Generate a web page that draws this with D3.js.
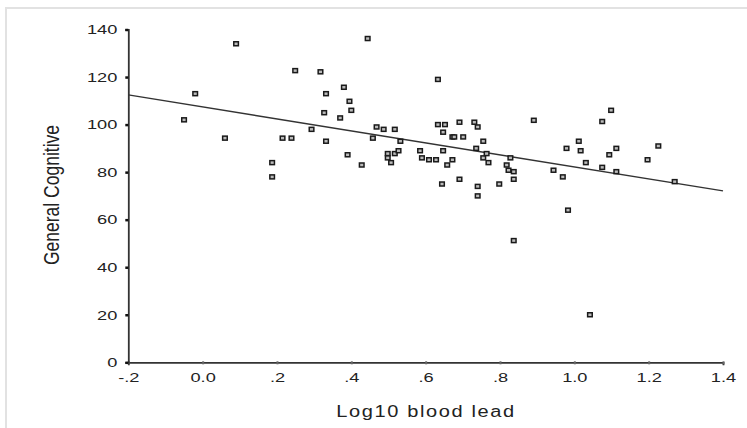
<!DOCTYPE html>
<html lang="en">
<head>
<meta charset="utf-8">
<title>General Cognitive vs Log10 blood lead</title>
<script src="https://d3js.org/d3.v7.min.js"></script>
<style>
  body { margin: 0; background: #fff; }
  text { font-family: "Liberation Sans", Arial, sans-serif; fill: #222; }
</style>
</head>
<body>
<script>
// data
var leadLog = [-0.05, -0.02, 0.06, 0.09, 0.187, 0.187, 0.215, 0.239, 0.249, 0.293,
  0.317, 0.327, 0.332, 0.332, 0.37, 0.38, 0.39, 0.395, 0.40, 0.428,
  0.444, 0.458, 0.468, 0.487, 0.498, 0.498, 0.507, 0.517, 0.517, 0.527,
  0.532, 0.585, 0.59, 0.609, 0.628, 0.633, 0.633, 0.652, 0.644, 0.647,
  0.647, 0.658, 0.672, 0.677, 0.672, 0.691, 0.691, 0.701, 0.731, 0.736,
  0.74, 0.74, 0.74, 0.755, 0.755, 0.764, 0.769, 0.798, 0.818, 0.823,
  0.828, 0.837, 0.837, 0.837, 0.891, 0.944, 0.969, 0.979, 0.983, 1.012,
  1.017, 1.031, 1.042, 1.075, 1.075, 1.094, 1.099, 1.113, 1.113, 1.197,
  1.226, 1.27];
var cognitive = [102, 113, 94.3, 134, 84, 78, 94.3, 94.3, 122.7, 98,
  122.2, 105, 113, 93, 102.8, 115.7, 87.3, 109.8, 106, 83,
  136.2, 94.3, 99, 98, 87.8, 86, 84, 98, 87.8, 89,
  93, 89, 86, 85.2, 85.2, 119, 100, 100, 75, 96.8,
  89, 83, 94.8, 94.8, 85.2, 101, 77, 94.8, 101, 90,
  99, 74, 70, 93, 86, 87.8, 84, 75, 83, 80.8,
  86, 80.2, 77, 51.2, 101.8, 80.8, 78, 90, 64, 93,
  89, 84, 20, 101.3, 82, 87.3, 106, 90, 80.2, 85.2,
  91, 76];
var fitX = [-0.2, 1.4];
var fitY = [112.5, 72.1];
var xTicks = [-0.2, 0, 0.2, 0.4, 0.6, 0.8, 1.0, 1.2, 1.4];
var xTickLabels = ["-.2", "0.0", ".2", ".4", ".6", ".8", "1.0", "1.2", "1.4"];
var yTicks = [0, 20, 40, 60, 80, 100, 120, 140];

var w = 747, h = 428;
var sx = 1.35;   // the original picture is stretched sideways

var svg = d3.select("body").append("svg")
    .attr("width", w)
    .attr("height", h);

// light frame at top and left
svg.append("line").attr("x1", 5).attr("x2", w).attr("y1", 8).attr("y2", 8)
    .attr("stroke", "#e2e2e2").attr("stroke-width", 2);
svg.append("line").attr("x1", 6).attr("x2", 6).attr("y1", 7).attr("y2", h)
    .attr("stroke", "#e2e2e2").attr("stroke-width", 2);

var x = d3.scaleLinear().domain([-0.2, 1.4]).range([128.3, 723]);
var y = d3.scaleLinear().domain([0, 140]).range([362.3, 29.5]);

// x axis
var xAxis = svg.append("g")
    .attr("transform", "translate(0," + y(0) + ")")
    .call(d3.axisBottom(x).tickValues(xTicks)
      .tickFormat((d, i) => xTickLabels[i]).tickSize(3).tickPadding(7));
xAxis.select(".domain").attr("stroke", "#333").attr("stroke-width", 1.8);
xAxis.selectAll(".tick line").attr("stroke", "#666").attr("stroke-width", 2)
    .attr("y1", -1).attr("y2", 2);
xAxis.selectAll(".tick text")
    .style("font-size", "13.5px")
    .attr("transform", "scale(" + sx + ",1)");

// y axis
var yAxis = svg.append("g")
    .attr("transform", "translate(" + x(-0.2) + ",0)")
    .call(d3.axisLeft(y).tickValues(yTicks).tickSize(3).tickPadding(8));
yAxis.select(".domain").attr("stroke", "#333").attr("stroke-width", 1.8);
yAxis.selectAll(".tick line").attr("stroke", "#111").attr("stroke-width", 2.5);
yAxis.selectAll(".tick text")
    .style("font-size", "13.5px")
    .attr("transform", "scale(" + sx + ",1)")
    .attr("x", -11 / sx);

// regression line
svg.append("line")
    .attr("x1", x(fitX[0])).attr("y1", y(fitY[0]))
    .attr("x2", x(fitX[1])).attr("y2", y(fitY[1]))
    .attr("stroke", "#333").attr("stroke-width", 1.4);

// points
var pts = leadLog.map((d, i) => ({lx: d, gc: cognitive[i]}));
svg.append("g").selectAll("rect")
    .data(pts)
  .enter().append("rect")
    .attr("x", d => x(d.lx) - 2.3)
    .attr("y", d => y(d.gc) - 2)
    .attr("width", 4.6)
    .attr("height", 4)
    .attr("fill", "#bbb")
    .attr("stroke", "#1a1a1a")
    .attr("stroke-width", 1.5);

// titles
svg.append("text")
    .attr("transform", "translate(426,417) scale(1.25,1)")
    .attr("text-anchor", "middle")
    .style("font-size", "16px")
    .style("letter-spacing", "1.3px")
    .text("Log10 blood lead");

svg.append("text")
    .attr("transform", "translate(59,195) rotate(-90) scale(1,1.3)")
    .attr("text-anchor", "middle")
    .style("font-size", "17.5px")
    .text("General Cognitive");
</script>
</body>
</html>
